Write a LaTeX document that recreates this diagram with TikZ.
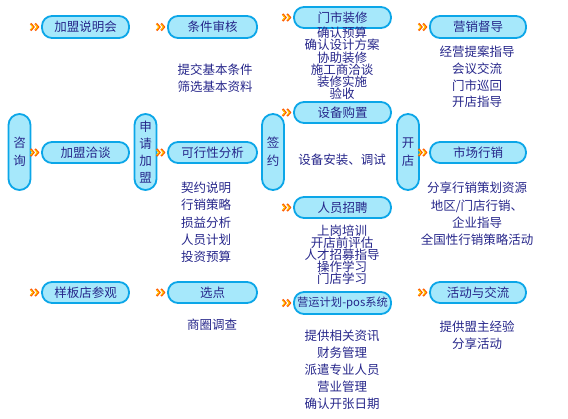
\documentclass[tikz,border=0pt]{standalone}
\usepackage{fontspec}
\newfontfamily\cjk{Noto Sans CJK SC}
\definecolor{pillfill}{HTML}{A6E8FB}
\definecolor{pillline}{HTML}{0BA6E8}
\definecolor{navy}{HTML}{26268A}
\definecolor{chevo}{HTML}{FF5A00}
\definecolor{chevy}{HTML}{FFE000}
\begin{document}
\begin{tikzpicture}[x=1pt,y=-1pt,
  pill/.style={draw=pillline, fill=pillfill, line width=1.8pt, rounded corners=10pt,
    inner sep=0pt, minimum height=21pt, text=navy, font=\cjk\fontsize{12.5}{14}\selectfont},
  vpill/.style={draw=pillline, fill=pillfill, line width=1.8pt, rounded corners=11pt,
    inner sep=0pt, minimum width=22pt, minimum height=76pt, text=navy, align=center},
  lst/.style={text=navy, align=center, inner sep=0pt},
  chev/.pic={
    \draw[chevo, line width=2pt, line join=miter] (-10pt,3.5pt) -- (-7pt,0pt) -- (-10pt,-3.5pt);
    \draw[chevo, line width=2pt, line join=miter] (-5.5pt,3.5pt) -- (-2.5pt,0pt) -- (-5.5pt,-3.5pt);
    \draw[chevy, line width=0.7pt] (-10pt,2.6pt) -- (-7.7pt,0pt) -- (-10pt,-2.6pt);
    \draw[chevy, line width=0.7pt] (-5.5pt,2.6pt) -- (-3.2pt,0pt) -- (-5.5pt,-2.6pt);
  }]
\useasboundingbox (0,0) rectangle (568,418);

% horizontal pills
\node[pill, minimum width=87pt, minimum height=22pt] (p1) at (85.5,27) {加盟说明会};
\node[pill, minimum width=89pt, minimum height=22pt] (p2) at (212.5,27) {条件审核};
\node[pill, minimum width=97pt] (p3) at (342.5,17.5) {门市装修};
\node[pill, minimum width=96pt, minimum height=22pt] (p4) at (478,27) {营销督导};
\node[pill, minimum width=97pt] (p5) at (342.5,112.5) {设备购置};
\node[pill, minimum width=87pt] (p6) at (85.5,152.5) {加盟洽谈};
\node[pill, minimum width=89pt] (p7) at (212.5,152.5) {可行性分析};
\node[pill, minimum width=96pt] (p8) at (478,152.5) {市场行销};
\node[pill, minimum width=97pt] (p9) at (342.5,207.5) {人员招聘};
\node[pill, minimum width=87pt] (p10) at (85.5,292.5) {样板店参观};
\node[pill, minimum width=89pt] (p11) at (212.5,292.5) {选点};
\node[pill, minimum width=97pt, minimum height=22pt, font=\cjk\fontsize{11.3}{13}\selectfont] (p12) at (342.5,303) {营运计划-pos系统};
\node[pill, minimum width=96pt] (p13) at (478,292.5) {活动与交流};

% vertical pills
\node[vpill, font=\cjk\fontsize{12.5}{18}\selectfont] (v1) at (19.5,152) {咨\\询};
\node[vpill, font=\cjk\fontsize{12.5}{17}\selectfont] (v2) at (145.5,152) {申\\请\\加\\盟};
\node[vpill, font=\cjk\fontsize{12.5}{18}\selectfont] (v3) at (273,152) {签\\约};
\node[vpill, font=\cjk\fontsize{12.5}{18}\selectfont] (v4) at (408,152) {开\\店};

% chevrons
\foreach \n in {p1,p2,p3,p4,p5,p6,p7,p8,p9,p10,p11,p12,p13}
  \pic at ([xshift=-0.5pt]\n.west) {chev};

% lists
\node[lst, font=\cjk\fontsize{12.5}{17}\selectfont] (l1) at (215,78.5) {提交基本条件\\筛选基本资料};
\node[lst, font=\cjk\fontsize{12.5}{12.2}\selectfont] (l2) at (342,63.5) {确认预算\\确认设计方案\\协助装修\\施工商洽谈\\装修实施\\验收};
\node[lst, font=\cjk\fontsize{12.5}{16.7}\selectfont] (l3) at (477,77) {经营提案指导\\会议交流\\门市巡回\\开店指导};
\node[lst, font=\cjk\fontsize{12.5}{17.25}\selectfont] (l4) at (206,222.5) {契约说明\\行销策略\\损益分析\\人员计划\\投资预算};
\node[lst, font=\cjk\fontsize{12.5}{14}\selectfont] (l5) at (342,160) {设备安装、调试};
\node[lst, font=\cjk\fontsize{12.5}{12}\selectfont] (l6) at (342,255) {上岗培训\\开店前评估\\人才招募指导\\操作学习\\门店学习};
\node[lst, font=\cjk\fontsize{12.5}{17.3}\selectfont] (l7) at (477,214) {分享行销策划资源\\地区/门店行销、\\企业指导\\全国性行销策略活动};
\node[lst, font=\cjk\fontsize{12.5}{14}\selectfont] (l8) at (212,325) {商圈调查};
\node[lst, font=\cjk\fontsize{12.5}{17}\selectfont] (l9) at (342,370) {提供相关资讯\\财务管理\\派遣专业人员\\营业管理\\确认开张日期};
\node[lst, font=\cjk\fontsize{12.5}{17}\selectfont] (l10) at (477,335.5) {提供盟主经验\\分享活动};
\end{tikzpicture}
\end{document}
